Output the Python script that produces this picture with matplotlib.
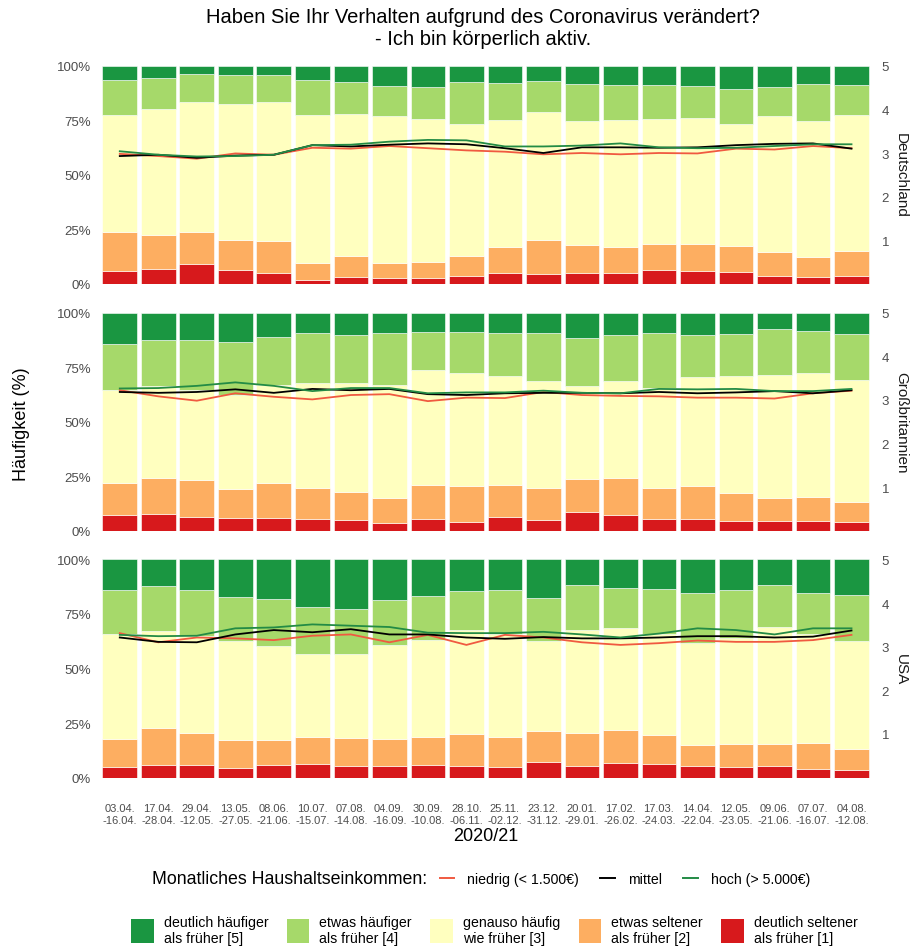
import numpy as np
import matplotlib
matplotlib.use('Agg')
import matplotlib.pyplot as plt
from matplotlib.patches import Patch
from matplotlib.lines import Line2D

plt.rcParams['font.family'] = ['Liberation Sans', 'DejaVu Sans']

# Befragungszeitraeume
zeitraum = ['03.04.\n-16.04.', '17.04.\n-28.04.', '29.04.\n-12.05.', '13.05.\n-27.05.',
            '08.06.\n-21.06.', '10.07.\n-15.07.', '07.08.\n-14.08.', '04.09.\n-16.09.',
            '30.09.\n-10.08.', '28.10.\n-06.11.', '25.11.\n-02.12.', '23.12.\n-31.12.',
            '20.01.\n-29.01.', '17.02.\n-26.02.', '17.03.\n-24.03.', '14.04.\n-22.04.',
            '12.05.\n-23.05.', '09.06.\n-21.06.', '07.07.\n-16.07.', '04.08.\n-12.08.']

laender = ['Deutschland', 'Großbritannien', 'USA']

# kumulierte Anteile in % (bis Kategorie 1, 2, 3, 4)
de_k1 = [6.1, 6.9, 9.2, 6.4, 5.2, 1.8, 3.1, 2.6, 2.6, 3.8, 5.2, 4.6, 5.2, 5.2, 6.4, 6.0, 5.5, 3.8, 3.1, 3.8]
de_k2 = [23.7, 22.5, 23.7, 20.2, 19.7, 9.6, 12.7, 9.6, 10.1, 12.7, 17.0, 20.2, 18.0, 17.1, 18.3, 18.3, 17.4, 14.5, 12.2, 15.0]
de_k3 = [77.5, 80.1, 83.2, 82.3, 83.2, 77.5, 78.0, 77.1, 75.4, 73.1, 75.2, 78.9, 74.5, 75.2, 75.7, 76.1, 73.1, 77.1, 74.5, 77.5]
de_k4 = [93.3, 94.3, 96.0, 95.6, 95.6, 93.3, 92.4, 90.7, 90.2, 92.4, 92.0, 92.8, 91.6, 91.1, 91.1, 90.7, 89.3, 90.2, 91.6, 91.1]

gb_k1 = [7.0, 7.9, 6.3, 5.8, 5.8, 5.3, 4.9, 3.7, 5.3, 4.1, 6.3, 4.9, 8.4, 7.0, 5.3, 5.3, 4.4, 4.4, 4.4, 4.0]
gb_k2 = [22.1, 24.0, 23.1, 19.1, 21.7, 19.5, 17.7, 15.1, 21.2, 20.3, 21.2, 19.5, 23.5, 24.0, 19.5, 20.3, 17.3, 15.1, 15.6, 13.3]
gb_k3 = [64.4, 66.3, 64.7, 62.1, 66.6, 67.5, 67.5, 67.0, 73.6, 72.4, 71.0, 68.4, 66.3, 68.7, 65.6, 70.5, 71.0, 71.5, 72.4, 68.9]
gb_k4 = [85.8, 87.2, 87.2, 86.3, 89.0, 90.7, 89.8, 90.7, 91.1, 91.1, 90.7, 90.7, 88.5, 89.8, 90.7, 89.8, 90.2, 92.5, 91.6, 90.2]

us_k1 = [4.9, 5.8, 5.8, 4.4, 5.8, 6.3, 5.3, 5.3, 5.8, 5.3, 4.9, 7.2, 5.3, 6.7, 6.3, 5.3, 4.9, 5.3, 4.1, 3.7]
us_k2 = [17.6, 22.9, 20.3, 17.1, 17.1, 18.5, 18.0, 17.6, 18.5, 19.8, 18.5, 21.2, 20.3, 21.7, 19.4, 15.0, 15.4, 15.4, 15.9, 13.3]
us_k3 = [65.6, 67.0, 65.0, 62.6, 60.3, 56.5, 56.8, 60.8, 63.1, 67.5, 66.0, 62.6, 67.5, 68.4, 66.0, 61.7, 63.8, 69.2, 66.0, 62.6]
us_k4 = [85.8, 87.6, 85.8, 82.7, 81.8, 78.3, 77.4, 81.4, 83.2, 85.3, 85.8, 82.3, 88.1, 86.7, 86.3, 84.6, 85.8, 88.1, 84.6, 83.7]

# Mittelwerte (1-5) nach Einkommen
de_niedrig = [2.98, 2.93, 2.87, 2.99, 2.96, 3.12, 3.10, 3.16, 3.11, 3.06, 3.03, 2.97, 3.00, 2.97, 3.00, 2.99, 3.10, 3.08, 3.16, 3.11]
de_mittel = [2.93, 2.96, 2.89, 2.94, 2.96, 3.18, 3.15, 3.19, 3.22, 3.20, 3.11, 3.00, 3.13, 3.13, 3.12, 3.13, 3.18, 3.21, 3.22, 3.10]
de_hoch = [3.04, 2.96, 2.92, 2.93, 2.96, 3.18, 3.19, 3.26, 3.30, 3.29, 3.15, 3.15, 3.17, 3.22, 3.13, 3.11, 3.12, 3.16, 3.20, 3.20]

gb_niedrig = [3.22, 3.08, 2.98, 3.15, 3.07, 3.01, 3.11, 3.13, 2.97, 3.05, 3.04, 3.18, 3.11, 3.09, 3.08, 3.05, 3.05, 3.03, 3.15, 3.21]
gb_mittel = [3.18, 3.16, 3.18, 3.24, 3.16, 3.25, 3.22, 3.25, 3.13, 3.11, 3.15, 3.16, 3.16, 3.15, 3.18, 3.15, 3.17, 3.20, 3.15, 3.22]
gb_hoch = [3.26, 3.27, 3.32, 3.40, 3.32, 3.20, 3.27, 3.27, 3.15, 3.17, 3.17, 3.21, 3.16, 3.15, 3.25, 3.24, 3.25, 3.20, 3.20, 3.25]

us_niedrig = [3.31, 3.10, 3.21, 3.19, 3.15, 3.25, 3.28, 3.10, 3.27, 3.04, 3.27, 3.21, 3.10, 3.04, 3.08, 3.14, 3.11, 3.11, 3.15, 3.27]
us_mittel = [3.21, 3.11, 3.10, 3.28, 3.38, 3.33, 3.40, 3.28, 3.28, 3.21, 3.18, 3.22, 3.19, 3.19, 3.21, 3.24, 3.24, 3.21, 3.23, 3.37]
us_hoch = [3.27, 3.24, 3.25, 3.42, 3.44, 3.51, 3.48, 3.45, 3.32, 3.31, 3.31, 3.34, 3.28, 3.21, 3.30, 3.42, 3.38, 3.28, 3.42, 3.42]

kategorien = ['deutlich seltener\nals früher [1]', 'etwas seltener\nals früher [2]',
              'genauso häufig\nwie früher [3]', 'etwas häufiger\nals früher [4]',
              'deutlich häufiger\nals früher [5]']
farben = ['#D7191C', '#FDAE61', '#FFFFBF', '#A6D96A', '#1A9641']
einkommen = ['niedrig (< 1.500€)', 'mittel', 'hoch (> 5.000€)']
linienfarben = ['#F05A40', '#000000', '#238B45']

kum = [[de_k1, de_k2, de_k3, de_k4], [gb_k1, gb_k2, gb_k3, gb_k4], [us_k1, us_k2, us_k3, us_k4]]
linien = [[de_niedrig, de_mittel, de_hoch], [gb_niedrig, gb_mittel, gb_hoch],
          [us_niedrig, us_mittel, us_hoch]]

grau = '#4D4D4D'
fig = plt.figure(figsize=(9.12, 9.53), dpi=100)
x = np.arange(len(zeitraum))
bottoms = [0.701, 0.442, 0.183]

for i, land in enumerate(laender):
    ax = fig.add_axes([0.106, bottoms[i], 0.853, 0.229])
    grenzen = np.vstack([np.zeros(len(x)), np.array(kum[i]), np.full(len(x), 100.0)]) / 100
    for k in range(5):
        ax.bar(x, grenzen[k + 1] - grenzen[k], bottom=grenzen[k], width=0.9,
               color=farben[k], edgecolor='white', linewidth=0.4, zorder=1)
    ax.set_xlim(-0.6, len(x) - 0.4)
    ax.set_ylim(0, 1)
    ax.set_yticks([0, 0.25, 0.5, 0.75, 1])
    ax.set_yticklabels(['0%', '25%', '50%', '75%', '100%'])
    ax.tick_params(axis='y', length=0, pad=4, labelsize=9.5, labelcolor=grau)
    ax.set_xticks(x)
    if i == 2:
        ax.set_xticklabels(zeitraum, fontsize=8, color=grau, linespacing=1.35)
        ax.tick_params(axis='x', length=0, pad=18)
        ax.set_xlabel('2020/21', fontsize=13, labelpad=1)
    else:
        ax.set_xticklabels([])
        ax.tick_params(axis='x', length=0)
    for s in ax.spines.values():
        s.set_visible(False)

    ax2 = ax.twinx()
    for j in range(3):
        ax2.plot(x, linien[i][j], color=linienfarben[j], linewidth=1.3, zorder=3)
    ax2.set_ylim(0, 5)
    ax2.set_yticks([1, 2, 3, 4, 5])
    ax2.tick_params(axis='y', length=0, pad=5, labelsize=9.5, labelcolor=grau)
    for s in ax2.spines.values():
        s.set_visible(False)
    ax2.text(1.034, 0.5, land, transform=ax.transAxes, rotation=270,
             ha='center', va='center', fontsize=11, color='#1A1A1A')

fig.text(0.53, 0.992, 'Haben Sie Ihr Verhalten aufgrund des Coronavirus verändert?\n- Ich bin körperlich aktiv.',
         ha='center', va='top', fontsize=14.5, linespacing=1.22)
fig.text(0.024, 0.555, 'Häufigkeit (%)', rotation=90, ha='center', va='center', fontsize=13)

# Legende Einkommen
fig.text(0.167, 0.077, 'Monatliches Haushaltseinkommen:', ha='left', va='center', fontsize=12.8)
lin_handles = [Line2D([], [], color=c, linewidth=1.4) for c in linienfarben]
fig.legend(lin_handles, einkommen, loc='center left', bbox_to_anchor=(0.468, 0.077),
           ncol=3, frameon=False, fontsize=10.2, handlelength=1.05, handletextpad=0.9,
           columnspacing=1.5)

# Legende Kategorien
pat_handles = [Patch(facecolor=farben[k]) for k in range(4, -1, -1)]
fig.legend(pat_handles, kategorien[::-1], loc='center', bbox_to_anchor=(0.542, 0.023),
           ncol=5, frameon=False, fontsize=10.2, handlelength=1.6, handleheight=2.2,
           handletextpad=0.7, columnspacing=1.3)

fig.savefig('out.png', dpi=100)
